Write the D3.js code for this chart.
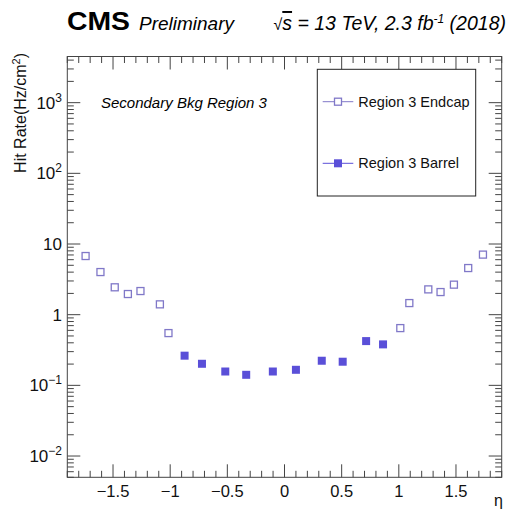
<!DOCTYPE html>
<html><head><meta charset="utf-8">
<script src="https://cdn.jsdelivr.net/npm/d3@7"></script>
<style>body{margin:0;background:#fff}svg{display:block}text{font-family:"Liberation Sans",Arial,Helvetica,sans-serif}</style>
</head><body><svg id="c" width="510" height="509"></svg>
<script>
const endcapEta = [-1.74,-1.61,-1.485,-1.37,-1.26,-1.09,-1.015, 1.013,1.092,1.258,1.365,1.482,1.607,1.736];
const endcapRate = [6.76,4.01,2.44,1.96,2.16,1.40,0.549, 0.646,1.46,2.28,2.09,2.66,4.57,7.08];
const barrelEta = [-0.874,-0.722,-0.518,-0.335,-0.102,0.100,0.326,0.509,0.714,0.862];
const barrelRate = [0.263,0.202,0.157,0.141,0.157,0.166,0.223,0.216,0.423,0.380];
const xMajorTicks = [-1.5,-1,-0.5,0,0.5,1,1.5];
const xTickLabels = ["\u22121.5","\u22121","\u22120.5","0","0.5","1","1.5"];
const yMajorTicks = [0.01,0.1,1,10,100,1000];
const yTickLabels = [["10","\u22122"],["10","\u22121"],["1",""],["10",""],["10","2"],["10","3"]];
const legendLabels = ["Region 3 Endcap","Region 3 Barrel"];

const svg = d3.select("#c");
svg.append("rect").attr("width",510).attr("height",509).attr("fill","#fff");
const L=67.3,R=501.7,T=56.5,B=477.3;
const x = d3.scaleLinear().domain([-1.9,1.9]).range([L,R]);
const y = d3.scaleLog().domain([0.005,4500]).range([B,T]);
const axisCol="#444";
const g = svg.append("g");
g.append("rect").attr("x",L).attr("y",T).attr("width",R-L).attr("height",B-T).attr("fill","none").attr("stroke",axisCol).attr("stroke-width",1);

const xMinor = d3.range(-19,20).map(i=>i/10).filter(v=>Math.abs(v*2-Math.round(v*2))>1e-6);
function tick(x1,y1,x2,y2){g.append("line").attr("x1",x1).attr("y1",y1).attr("x2",x2).attr("y2",y2).attr("stroke",axisCol).attr("stroke-width",1);}
xMajorTicks.forEach(v=>{tick(x(v),B,x(v),B-13);tick(x(v),T,x(v),T+13);});
xMinor.forEach(v=>{tick(x(v),B,x(v),B-6.5);tick(x(v),T,x(v),T+6.5);});
const yMinor=[];
[0.001,0.01,0.1,1,10,100,1000].forEach(d=>{for(let k=2;k<=9;k++){const v=d*k;if(v>=0.005&&v<=4500)yMinor.push(v);}});
yMajorTicks.forEach(v=>{tick(L,y(v),L+13,y(v));tick(R,y(v),R-13,y(v));});
yMinor.forEach(v=>{tick(L,y(v),L+6.5,y(v));tick(R,y(v),R-6.5,y(v));});

xMajorTicks.forEach((v,i)=>{
  g.append("text").attr("x",x(v)).attr("y",497).attr("text-anchor","middle").attr("font-size",16.5).attr("fill","#111").text(xTickLabels[i]);
});
yMajorTicks.forEach((v,i)=>{
  const t=g.append("text").attr("x",62).attr("y",y(v)+6).attr("text-anchor","end").attr("font-size",17).attr("fill","#111");
  t.append("tspan").text(yTickLabels[i][0]);
  if(yTickLabels[i][1]) t.append("tspan").attr("dy",-7).attr("font-size",12).text(yTickLabels[i][1]);
});

const yt = g.append("text").attr("transform","translate(26,53) rotate(-90)").attr("text-anchor","end").attr("font-size",16).attr("fill","#111");
yt.append("tspan").text("Hit Rate(Hz/cm");
yt.append("tspan").attr("dy",-6).attr("font-size",11).text("2");
yt.append("tspan").attr("dy",6).text(")");
g.append("text").attr("x",503).attr("y",506).attr("text-anchor","end").attr("font-size",16).attr("fill","#111").text("\u03B7");

g.append("text").attr("x",67).attr("y",30).attr("font-size",25).attr("font-weight","bold").attr("fill","#000").attr("textLength",63).attr("lengthAdjust","spacingAndGlyphs").text("CMS");
g.append("text").attr("x",139).attr("y",30).attr("font-size",19).attr("font-style","italic").attr("fill","#000").text("Preliminary");
const en = g.append("text").attr("x",506).attr("y",30).attr("text-anchor","end").attr("font-size",19.5).attr("font-style","italic").attr("fill","#000");
en.append("tspan").attr("font-size",16).attr("font-style","normal").text("\u221A");
en.append("tspan").attr("text-decoration","overline").text("s");
en.append("tspan").text(" = 13 TeV, 2.3 fb");
en.append("tspan").attr("dy",-7).attr("font-size",12).text("-1");
en.append("tspan").attr("dy",7).text(" (2018)");

g.append("text").attr("x",101).attr("y",108).attr("font-size",15).attr("font-style","italic").attr("fill","#000").text("Secondary Bkg Region 3");

const openCol="#8078c8", fillCol="#5a4fd8", S=8;
g.selectAll("rect.e").data(endcapEta.map((e,i)=>[e,endcapRate[i]])).enter().append("rect")
 .attr("x",d=>x(d[0])-S/2+0.5).attr("y",d=>y(d[1])-S/2+0.5).attr("width",S-1).attr("height",S-1)
 .attr("fill","none").attr("stroke",openCol).attr("stroke-width",1.3);
g.selectAll("rect.b").data(barrelEta.map((e,i)=>[e,barrelRate[i]])).enter().append("rect")
 .attr("x",d=>x(d[0])-S/2).attr("y",d=>y(d[1])-S/2).attr("width",S).attr("height",S)
 .attr("fill",fillCol);

g.append("rect").attr("x",317.3).attr("y",69.3).attr("width",158.4).attr("height",126.7).attr("fill","#fff").attr("stroke","#222").attr("stroke-width",1);
const ly=[101.7,163.3];
ly.forEach((yy,i)=>{
  g.append("line").attr("x1",322.7).attr("x2",353.3).attr("y1",yy).attr("y2",yy).attr("stroke",i?fillCol:openCol).attr("stroke-width",1);
  if(i===0) g.append("rect").attr("x",338-S/2+0.5).attr("y",yy-S/2+0.5).attr("width",S-1).attr("height",S-1).attr("fill","#fff").attr("stroke",openCol).attr("stroke-width",1.3);
  else g.append("rect").attr("x",338-S/2).attr("y",yy-S/2).attr("width",S).attr("height",S).attr("fill",fillCol);
  g.append("text").attr("x",358.3).attr("y",yy+5).attr("font-size",14.5).attr("fill","#111").text(legendLabels[i]);
});
</script></body></html>
